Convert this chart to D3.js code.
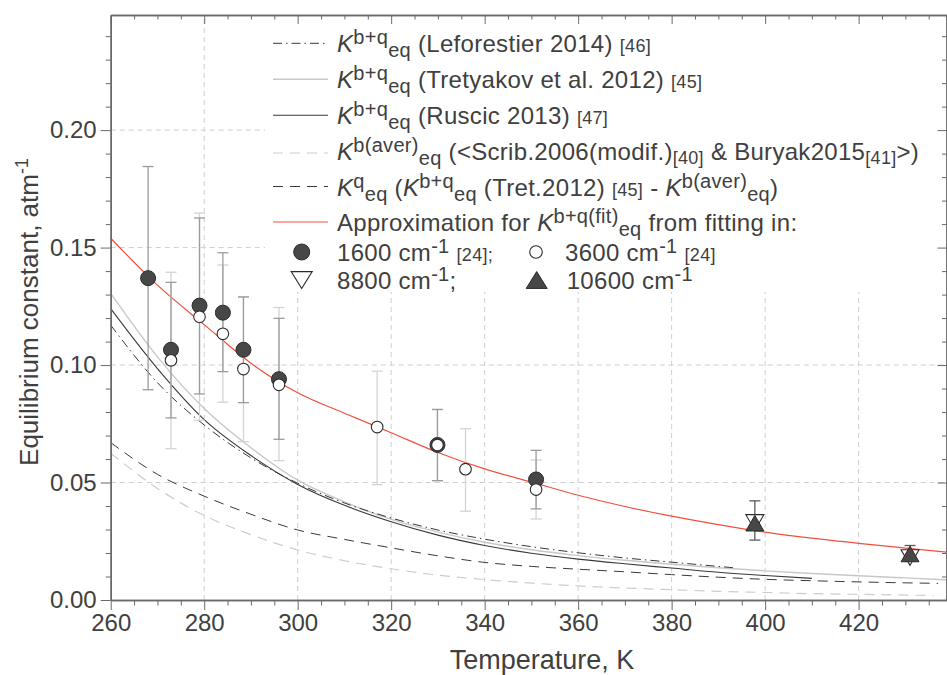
<!DOCTYPE html>
<html>
<head>
<meta charset="utf-8">
<title>Equilibrium constant</title>
<style>
  body { margin: 0; background: #fff; }
  svg text { font-family: "Liberation Sans", Arial, sans-serif; fill: #404040; white-space: pre; }
  .axis path, .axis line { stroke: #6a6a6a; }
  .axis path { stroke-width: 1.5; }
  .grid line { stroke: #cfcfcf; stroke-dasharray: 5,4; }
</style>
</head>
<body>
<script src="https://d3js.org/d3.v7.min.js"></script>
<script>
// --- curves (T in K, K in atm^-1)
var fitT = [260, 270, 280, 290, 300, 310, 320, 330, 340, 350, 360, 370, 380, 390, 400, 410, 420, 430, 438.8];
var fitK = [0.154, 0.134, 0.1172, 0.1008, 0.0882, 0.0795, 0.0712, 0.0628, 0.0558, 0.0502, 0.0446, 0.0398, 0.0357, 0.0321, 0.0289, 0.0263, 0.0241, 0.0221, 0.0204];

var lefT = [260, 270, 280, 290, 300, 310, 320, 330, 340, 350, 360, 370, 380, 390, 394];
var lefK = [0.117, 0.0925, 0.0745, 0.0605, 0.0497, 0.0413, 0.0349, 0.0298, 0.0259, 0.0227, 0.0201, 0.0179, 0.0161, 0.0143, 0.0136];

var tretT = [260, 270, 280, 290, 300, 310, 320, 330, 340, 350, 360, 370, 380, 390, 400, 410, 420, 430, 438.8];
var tretK = [0.1305, 0.1035, 0.0815, 0.0648, 0.051, 0.0418, 0.0343, 0.0289, 0.0246, 0.0214, 0.0189, 0.0169, 0.0152, 0.0137, 0.0124, 0.0113, 0.0103, 0.0094, 0.0086];

var rusT = [260, 270, 280, 290, 300, 310, 320, 330, 340, 350, 360, 370, 380, 390, 400, 410];
var rusK = [0.124, 0.0985, 0.0768, 0.0615, 0.0492, 0.0403, 0.0333, 0.0276, 0.0232, 0.0199, 0.0174, 0.0154, 0.0136, 0.0118, 0.0104, 0.0092];

var avT = [260, 270, 280, 290, 300, 310, 320, 330, 340, 350, 360, 370, 380, 390, 400, 410, 420, 430, 436];
var avK = [0.0625, 0.0475, 0.036, 0.0278, 0.0213, 0.0167, 0.0133, 0.0106, 0.0087, 0.0072, 0.006, 0.0051, 0.0044, 0.0037, 0.0032, 0.0027, 0.0024, 0.0021, 0.0019];

var qT = [260, 270, 280, 290, 300, 310, 320, 330, 340, 350, 360, 370, 380, 390, 400, 410, 420, 430, 437];
var qK = [0.067, 0.0535, 0.0442, 0.0365, 0.0298, 0.0258, 0.0222, 0.0188, 0.016, 0.0143, 0.0131, 0.012, 0.0108, 0.0097, 0.0088, 0.0082, 0.0077, 0.0073, 0.0071];

// --- measured points
var t1600 = [268, 272.9, 279, 284, 288.4, 296, 329.9, 351];
var k1600 = [0.137, 0.1065, 0.1253, 0.1223, 0.1065, 0.094, 0.066, 0.0513];
var lo1600 = [0.0895, 0.0775, 0.0877, 0.0972, 0.084, 0.0684, 0.0508, 0.0388];
var hi1600 = [0.1845, 0.1352, 0.1626, 0.1478, 0.129, 0.1199, 0.0811, 0.0637];

var t3600 = [272.9, 279, 284, 288.4, 296, 317, 329.9, 335.9, 351];
var k3600 = [0.102, 0.1206, 0.1133, 0.0983, 0.0916, 0.0736, 0.066, 0.0557, 0.047];
var lo3600 = [0.0644, 0.0765, 0.0842, 0.0674, 0.0593, 0.0491, 0.0508, 0.0378, 0.0345];
var hi3600 = [0.1395, 0.1647, 0.1426, 0.129, 0.1245, 0.0974, 0.0811, 0.0729, 0.0596];

var t8800 = [397.8, 431];
var k8800 = [0.033, 0.0181];

var t10600 = [397.8, 431];
var k10600 = [0.0327, 0.0196];
var lo10600 = [0.0255, 0.0165];
var hi10600 = [0.0422, 0.0232];

var xMajor = [260, 280, 300, 320, 340, 360, 380, 400, 420];
var yMajor = [0, 0.05, 0.10, 0.15, 0.20];

var W = 947, H = 675;
var x = d3.scaleLinear().domain([260, 438.8]).range([110.7, 946.5]);
var y = d3.scaleLinear().domain([0, 0.249]).range([600, 15]);

var xMinor = d3.range(265, 439, 5).filter(function(d) { return d % 20 !== 0; });
var yMinor = d3.range(1, 25).map(function(d) { return d / 100; }).filter(function(d, i) { return (i + 1) % 5 !== 0; });

var svg = d3.select("body").append("svg")
    .attr("width", W)
    .attr("height", H);

// grid
var grid = svg.append("g").attr("class", "grid");
grid.selectAll(".gx").data(xMajor.slice(1)).enter().append("line")
    .attr("x1", function(d) { return x(d); }).attr("x2", function(d) { return x(d); })
    .attr("y1", y(0)).attr("y2", y(0.249));
grid.selectAll(".gy").data(yMajor.slice(1)).enter().append("line")
    .attr("x1", x(260)).attr("x2", x(438.8))
    .attr("y1", function(d) { return y(d); }).attr("y2", function(d) { return y(d); });

// legend background hides the grid
svg.append("rect")
    .attr("x", 265).attr("y", 17)
    .attr("width", 682).attr("height", 275)
    .attr("fill", "#fff");

// curves
function curve(ts, ks, color, width, dash) {
    var pts = ts.map(function(t, i) { return [t, ks[i]]; });
    var line = d3.line()
        .x(function(d) { return x(d[0]); })
        .y(function(d) { return y(d[1]); })
        .curve(d3.curveMonotoneX);
    svg.append("path")
        .attr("d", line(pts))
        .attr("fill", "none")
        .attr("stroke", color)
        .attr("stroke-width", width)
        .attr("stroke-dasharray", dash || null);
}
var styles = {
    lef: ["#3a3a3a", 1, "9,4,1.5,4"],
    tret: ["#c8c8c8", 1.4, null],
    rus: ["#3a3a3a", 1.1, null],
    av: ["#cdcdcd", 1.2, "10,7"],
    q: ["#3a3a3a", 1, "10,7"],
    fit: ["#f0503c", 1.2, null]
};
curve(avT, avK, styles.av[0], styles.av[1], styles.av[2]);
curve(qT, qK, styles.q[0], styles.q[1], styles.q[2]);
curve(tretT, tretK, styles.tret[0], styles.tret[1]);
curve(rusT, rusK, styles.rus[0], styles.rus[1]);
curve(lefT, lefK, styles.lef[0], styles.lef[1], styles.lef[2]);
curve(fitT, fitK, styles.fit[0], styles.fit[1]);

// error bars
function errBars(ts, lo, hi, color) {
    var g = svg.append("g").attr("stroke", color).attr("stroke-width", 1.3);
    ts.forEach(function(t, i) {
        var cx = x(t);
        g.append("line").attr("x1", cx).attr("x2", cx).attr("y1", y(lo[i])).attr("y2", y(hi[i]));
        g.append("line").attr("x1", cx - 5.5).attr("x2", cx + 5.5).attr("y1", y(lo[i])).attr("y2", y(lo[i]));
        g.append("line").attr("x1", cx - 5.5).attr("x2", cx + 5.5).attr("y1", y(hi[i])).attr("y2", y(hi[i]));
    });
}
errBars(t3600, lo3600, hi3600, "#d4d4d4");
errBars(t1600, lo1600, hi1600, "#9c9c9c");
errBars(t10600, lo10600, hi10600, "#5a5a5a");

// markers
function tri(h, w, up) {
    return up ? "M0," + (-h) + "L" + w + "," + h + "L" + (-w) + "," + h + "Z"
              : "M0," + h + "L" + w + "," + (-h) + "L" + (-w) + "," + (-h) + "Z";
}
var markerDraw = {
    filled: function(g, cx, cy, r) {
        g.append("circle").attr("cx", cx).attr("cy", cy).attr("r", r || 7.5)
            .attr("fill", "#474747").attr("stroke", "#2b2b2b").attr("stroke-width", 1);
    },
    open: function(g, cx, cy, r) {
        g.append("circle").attr("cx", cx).attr("cy", cy).attr("r", r || 5.8)
            .attr("fill", "#fff").attr("stroke", "#2b2b2b").attr("stroke-width", 1.1);
    },
    down: function(g, cx, cy, s) {
        s = s || 1;
        g.append("path").attr("d", tri(7.8 * s, 9 * s * s, false)).attr("transform", "translate(" + cx + "," + cy + ")")
            .attr("fill", "#fff").attr("stroke", "#2b2b2b").attr("stroke-width", 1.1);
    },
    up: function(g, cx, cy, s) {
        s = s || 1;
        g.append("path").attr("d", tri(7.8 * s, 9 * s * s, true)).attr("transform", "translate(" + cx + "," + cy + ")")
            .attr("fill", "#474747").attr("stroke", "#2b2b2b").attr("stroke-width", 1);
    }
};
var mk = svg.append("g");
t1600.forEach(function(t, i) { markerDraw.filled(mk, x(t), y(k1600[i])); });
t3600.forEach(function(t, i) { markerDraw.open(mk, x(t), y(k3600[i])); });
t8800.forEach(function(t, i) { markerDraw.down(mk, x(t), y(k8800[i])); });
t10600.forEach(function(t, i) { markerDraw.up(mk, x(t), y(k10600[i])); });

// axes
var fs = 24;
svg.append("g").attr("class", "axis")
    .attr("transform", "translate(0," + y(0) + ")")
    .call(d3.axisBottom(x).tickValues(xMajor).tickSize(10).tickSizeOuter(0).tickPadding(4).tickFormat(d3.format("d")));
svg.append("g").attr("class", "axis")
    .attr("transform", "translate(0," + y(0) + ")")
    .call(d3.axisBottom(x).tickValues(xMinor).tickSize(5.5).tickSizeOuter(0).tickFormat(""));
svg.append("g").attr("class", "axis")
    .attr("transform", "translate(" + x(260) + ",0)")
    .call(d3.axisLeft(y).tickValues(yMajor).tickSize(10).tickSizeOuter(0).tickPadding(4).tickFormat(d3.format(".2f")));
svg.append("g").attr("class", "axis")
    .attr("transform", "translate(" + x(260) + ",0)")
    .call(d3.axisLeft(y).tickValues(yMinor).tickSize(5).tickSizeOuter(0).tickFormat(""));
svg.append("g").attr("class", "axis")
    .attr("transform", "translate(0," + y(0.249) + ")")
    .call(d3.axisTop(x).tickValues(xMajor).tickSize(-9).tickSizeOuter(0).tickFormat(""));
svg.append("g").attr("class", "axis")
    .attr("transform", "translate(0," + y(0.249) + ")")
    .call(d3.axisTop(x).tickValues(xMinor).tickSize(-4.5).tickSizeOuter(0).tickFormat(""));
svg.append("g").attr("class", "axis")
    .attr("transform", "translate(" + x(438.8) + ",0)")
    .call(d3.axisRight(y).tickValues(yMajor).tickSize(-9).tickSizeOuter(0).tickFormat(""));
svg.append("g").attr("class", "axis")
    .attr("transform", "translate(" + x(438.8) + ",0)")
    .call(d3.axisRight(y).tickValues(yMinor).tickSize(-4.5).tickSizeOuter(0).tickFormat(""));
svg.selectAll(".axis text").attr("font-size", fs).style("font-family", null).attr("fill", "#404040");
svg.selectAll(".axis .tick line").attr("stroke", "#6a6a6a");

// axis titles
svg.append("text")
    .attr("x", 542).attr("y", 669)
    .attr("text-anchor", "middle")
    .attr("font-size", 27)
    .text("Temperature, K");
var yt = svg.append("text")
    .attr("transform", "translate(38,312) rotate(-90)")
    .attr("text-anchor", "middle")
    .attr("font-size", 26);
yt.append("tspan").text("Equilibrium constant, atm");
yt.append("tspan").attr("dy", -10).attr("font-size", 18).text("-1");

// legend
var FS = 24, SS = 20, RS = 18;
function rich(xPos, yBase, parts) {
    var t = svg.append("text").attr("x", xPos).attr("y", yBase).attr("font-size", FS)
        .attr("letter-spacing", 0.3);
    var shift = 0;
    parts.forEach(function(p) {
        var s = t.append("tspan").text(p[0]);
        var target = 0, size = FS;
        if (p[1] === "i") s.attr("font-style", "italic");
        if (p[1] === "sup") { target = -8; size = SS; }
        if (p[1] === "sub") { target = 5; size = SS; }
        if (p[1] === "small") { size = RS; }
        if (p[1] === "smallsub") { target = 4; size = RS; }
        s.attr("dy", target - shift).attr("font-size", size);
        shift = target;
    });
}
var lx0 = 273, lx1 = 328, tx = 337;
var legendLines = [
    { y: 43.3, off: 9, st: styles.lef, parts: [["K", "i"], ["b+q", "sup"], ["eq", "sub"], [" (Leforestier 2014) ", ""], ["[46]", "small"]] },
    { y: 79.3, off: 9, st: styles.tret, parts: [["K", "i"], ["b+q", "sup"], ["eq", "sub"], [" (Tretyakov et al. 2012) ", ""], ["[45]", "small"]] },
    { y: 115.3, off: 9, st: styles.rus, parts: [["K", "i"], ["b+q", "sup"], ["eq", "sub"], [" (Ruscic 2013) ", ""], ["[47]", "small"]] },
    { y: 153, off: 7, st: styles.av, parts: [["K", "i"], ["b(aver)", "sup"], ["eq", "sub"], [" (<Scrib.2006(modif.)", ""], ["[40]", "smallsub"], [" & Buryak2015", ""], ["[41]", "smallsub"], [">)", ""]] },
    { y: 186.5, off: 9, st: styles.q, parts: [["K", "i"], ["q", "sup"], ["eq", "sub"], [" (", ""], ["K", "i"], ["b+q", "sup"], ["eq", "sub"], [" (Tret.2012) ", ""], ["[45]", "small"], [" - ", ""], ["K", "i"], ["b(aver)", "sup"], ["eq", "sub"], [")", ""]] },
    { y: 222, off: 9, st: styles.fit, parts: [["Approximation for ", ""], ["K", "i"], ["b+q(fit)", "sup"], ["eq", "sub"], [" from fitting in:", ""]] }
];
legendLines.forEach(function(L) {
    svg.append("line")
        .attr("x1", lx0).attr("x2", lx1).attr("y1", L.y).attr("y2", L.y)
        .attr("stroke", L.st[0]).attr("stroke-width", L.st[1])
        .attr("stroke-dasharray", L.st[2] || null);
    rich(tx, L.y + L.off, L.parts);
});
var lg = svg.append("g");
markerDraw.filled(lg, 301.7, 252, 8);
rich(tx, 260.5, [["1600 cm", ""], ["-1", "sup"], [" ", ""], ["[24];", "small"]]);
markerDraw.open(lg, 536, 252, 6.3);
rich(565, 260.5, [["3600 cm", ""], ["-1", "sup"], [" ", ""], ["[24]", "small"]]);
markerDraw.down(lg, 301.7, 280, 1.08);
rich(tx, 289, [["8800 cm", ""], ["-1", "sup"], [";", ""]]);
markerDraw.up(lg, 536.7, 280, 1.08);
rich(566.7, 289, [["10600 cm", ""], ["-1", "sup"]]);
</script>
</body>
</html>
